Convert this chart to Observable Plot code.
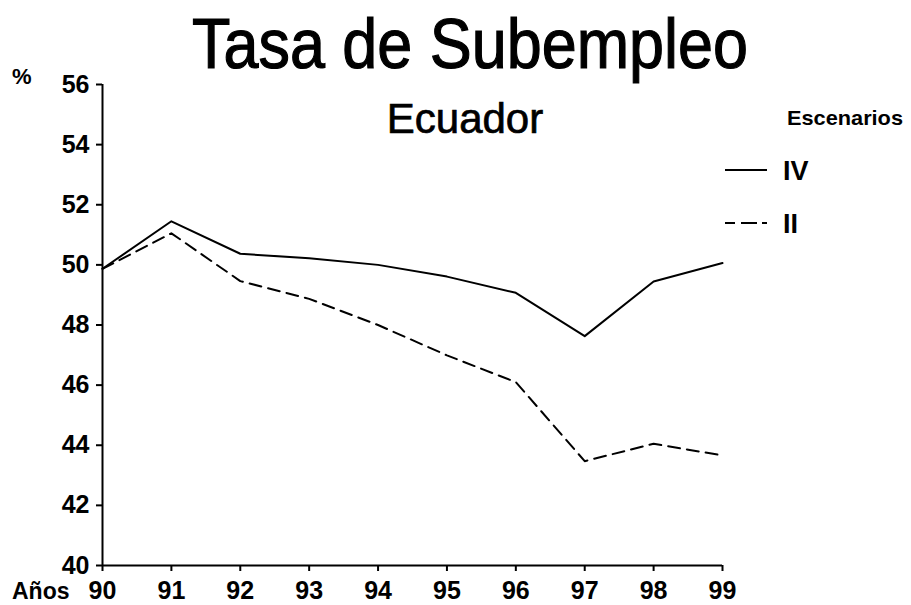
<!DOCTYPE html>
<html><head><meta charset="utf-8">
<script src="https://cdn.jsdelivr.net/npm/d3@7"></script>
<script src="https://cdn.jsdelivr.net/npm/@observablehq/plot@0.6"></script>
<style>body{margin:0;background:#fff} #chart{position:relative;width:911px;height:605px}</style>
</head><body><div id="chart"></div>
<script>
const years = [90, 91, 92, 93, 94, 95, 96, 97, 98, 99];
const escenarioIV = [49.87, 51.45, 50.37, 50.22, 50.0, 49.61, 49.07, 47.63, 49.45, 50.06];
const escenarioII = [49.87, 51.05, 49.46, 48.87, 48.0, 46.99, 46.1, 43.47, 44.05, 43.66];
const yTicks = [40, 42, 44, 46, 48, 50, 52, 54, 56];
const titleText = "Tasa de Subempleo";
const subtitleText = "Ecuador";
const legendTitle = "Escenarios";
const seriesNames = ["IV", "II"];
const yUnit = "%";
const xName = "Años";

const dataIV = years.map((y, i) => ({year: y, value: escenarioIV[i], s: seriesNames[0]}));
const dataII = years.map((y, i) => ({year: y, value: escenarioII[i], s: seriesNames[1]}));

const font = "'Liberation Sans', Arial, Helvetica, sans-serif";

const plot = Plot.plot({
  width: 911, height: 605,
  marginLeft: 102, marginRight: 189, marginTop: 84, marginBottom: 40,
  style: {fontFamily: font, color: "#000", background: "#fff", overflow: "visible"},
  x: {domain: [90, 99]},
  y: {domain: [40, 56]},
  marks: [
    Plot.axisY({ticks: yTicks, tickSize: 6, tickPadding: 7, fontSize: 25, fontWeight: "bold", label: null, strokeWidth: 2, tickFormat: d => String(d)}),
    Plot.axisX({ticks: years, tickSize: 6, tickPadding: 10, fontSize: 25, fontWeight: "bold", label: null, strokeWidth: 2, tickFormat: d => String(d)}),
    Plot.ruleX([90], {stroke: "#000", strokeWidth: 2}),
    Plot.ruleY([40], {stroke: "#000", strokeWidth: 2}),
    Plot.line(dataIV, {x: "year", y: "value", stroke: "#000", strokeWidth: 2}),
    Plot.line(dataII, {x: "year", y: "value", stroke: "#000", strokeWidth: 2, strokeDasharray: "12,7"})
  ]
});
document.getElementById("chart").appendChild(plot);

const svg = d3.select(plot);
const g = svg.append("g").attr("font-family", font).attr("fill", "#000").attr("text-anchor", "start");
g.append("text").attr("x", 470).attr("y", 68).attr("text-anchor", "middle")
  .attr("font-size", 70).attr("textLength", 556).attr("lengthAdjust", "spacingAndGlyphs")
  .attr("stroke", "#000").attr("stroke-width", 1.2).text(titleText);
g.append("text").attr("x", 465).attr("y", 133).attr("text-anchor", "middle")
  .attr("font-size", 42).attr("stroke", "#000").attr("stroke-width", 0.7).text(subtitleText);
g.append("text").attr("x", 12).attr("y", 84).attr("font-size", 22).attr("font-weight", "bold").text(yUnit);
g.append("text").attr("x", 12).attr("y", 599).attr("font-size", 23).attr("font-weight", "bold").text(xName);
g.append("text").attr("x", 787).attr("y", 125).attr("font-size", 21).attr("font-weight", "bold")
  .attr("textLength", 116).attr("lengthAdjust", "spacingAndGlyphs").text(legendTitle);
const legY = [170, 223];
const dashes = [null, "10,6,16,5,5"];
seriesNames.forEach((name, i) => {
  const ln = g.append("line").attr("x1", 725).attr("x2", 767).attr("y1", legY[i]).attr("y2", legY[i])
    .attr("stroke", "#000").attr("stroke-width", 2);
  if (dashes[i]) ln.attr("stroke-dasharray", dashes[i]);
  g.append("text").attr("x", 783).attr("y", legY[i] + 10).attr("font-size", 27).attr("font-weight", "bold").text(name);
});
</script>
</body></html>
